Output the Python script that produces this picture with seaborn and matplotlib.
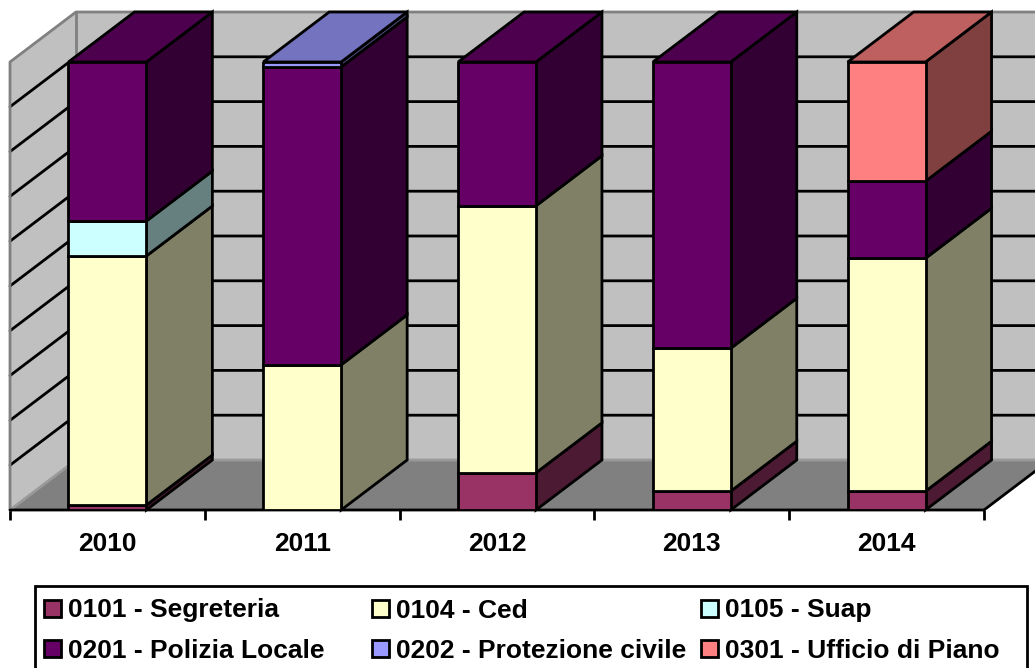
import matplotlib
matplotlib.use("Agg")
import matplotlib.pyplot as plt
from matplotlib.patches import Polygon, Rectangle
from matplotlib.colors import to_rgb
import numpy as np
import pandas as pd
import seaborn as sns

# Percent share of each office per year (each year sums to 100)
years = ["2010", "2011", "2012", "2013", "2014"]
segreteria = [1.1, 0.0, 8.3, 4.2, 4.2]
ced = [55.6, 32.4, 59.6, 31.9, 52.0]
suap = [7.8, 0.0, 0.0, 0.0, 0.0]
polizia = [35.5, 66.5, 32.1, 63.9, 17.2]
protezione = [0.0, 1.1, 0.0, 0.0, 0.0]
ufficio = [0.0, 0.0, 0.0, 0.0, 26.6]

series_names = ["0101 - Segreteria", "0104 - Ced", "0105 - Suap",
                "0201 - Polizia Locale", "0202 - Protezione civile",
                "0301 - Ufficio di Piano"]
series_values = [segreteria, ced, suap, polizia, protezione, ufficio]
series_colors = ["#993366", "#FFFFCC", "#CCFFFF", "#660066", "#9999FF", "#FF8080"]

W, H = 1035, 668
LW = 2.0
FONT = 19
sns.set_theme(style="white")
plt.rcParams["font.family"] = ["Liberation Sans", "DejaVu Sans"]

fig = plt.figure(figsize=(W / 100, H / 100), dpi=100, facecolor="white")
ax = fig.add_axes([10 / W, 1 - 510 / H, 974 / W, 448 / H])

# Depth of the oblique projection, in data units
DX = 66 / 194.8
DY = 50 / 4.48
XMIN, XMAX = -0.5, 4.5
ax.set_xlim(XMIN, XMAX)
ax.set_ylim(0, 100)
ax.patch.set_visible(False)
for spine in ax.spines.values():
    spine.set_visible(False)


def face(points, color, edge="none", z=1):
    ax.add_patch(Polygon(points, closed=True, facecolor=color, edgecolor=edge,
                         linewidth=LW, zorder=z, clip_on=False, joinstyle="miter"))


def shade(color, k):
    return tuple(c * k for c in to_rgb(color))


# Chart walls and floor
face([(XMIN + DX, DY), (XMAX + DX, DY), (XMAX + DX, 100 + DY), (XMIN + DX, 100 + DY)], "#C0C0C0")
face([(XMIN, 0), (XMIN + DX, DY), (XMIN + DX, 100 + DY), (XMIN, 100)], "#C0C0C0")
face([(XMIN, 0), (XMAX, 0), (XMAX + DX, DY), (XMIN + DX, DY)], "#808080")

# Gridlines on the back and side walls
for level in range(10, 100, 10):
    ax.plot([XMIN, XMIN + DX, XMAX + DX], [level, level + DY, level + DY],
            color="black", lw=LW, clip_on=False, zorder=2, solid_joinstyle="miter")

wall_edge = "#808080"
ax.plot([XMIN, XMIN, XMIN + DX, XMAX + DX], [0, 100, 100 + DY, 100 + DY],
        color=wall_edge, lw=LW, clip_on=False, zorder=2)
ax.plot([XMIN + DX, XMIN + DX], [DY, 100 + DY], color=wall_edge, lw=LW, clip_on=False, zorder=2)
ax.plot([XMIN, XMIN + DX, XMAX + DX], [0, DY, DY], color="#9A9A9A", lw=LW, clip_on=False, zorder=2)
ax.plot([XMIN, XMAX, XMAX + DX], [0, 0, DY], color="black", lw=LW, clip_on=False, zorder=2.5)

# Stacked front faces, with side and top faces extruded from each bar
table = pd.DataFrame(series_values, index=series_names, columns=years)
base = pd.Series(0.0, index=years)
tops = {}
for name, color in zip(series_names, series_colors):
    row = table.loc[name]
    used = row[row > 0]
    before = len(ax.patches)
    sns.barplot(x=used.index, y=used.values, order=years, color=color, saturation=1,
                width=0.4, bottom=base[used.index].values, edgecolor="black",
                linewidth=LW, errorbar=None, zorder=4, ax=ax)
    bars = [b for b in ax.patches[before:] if b.get_height() > 0]
    for bar in bars:
        x0, x1 = bar.get_x(), bar.get_x() + bar.get_width()
        y0, y1 = bar.get_y(), bar.get_y() + bar.get_height()
        face([(x1, y0), (x1 + DX, y0 + DY), (x1 + DX, y1 + DY), (x1, y1)],
             shade(color, 0.5), "black", 3.5)
        tops[round(x0, 3)] = (x0, x1, y1, color)
    base[used.index] += used.values

for x0, x1, y1, color in tops.values():
    face([(x0, y1), (x1, y1), (x1 + DX, y1 + DY), (x0 + DX, y1 + DY)],
         shade(color, 0.75), "black", 3.5)

# Category axis: ticks on the boundaries, labels centred under the bars
ax.set_xticks(np.arange(XMIN, XMAX + 0.5, 1.0))
ax.set_xticklabels([])
ax.set_xticks(range(len(years)), labels=years, minor=True)
ax.tick_params(axis="x", which="major", length=7.2, width=LW, color="black", bottom=True)
ax.tick_params(axis="x", which="minor", length=0, pad=15.5, labelsize=FONT, labelcolor="black")
for label in ax.get_xticklabels(minor=True):
    label.set_fontweight("bold")
ax.set_yticks([])
ax.set_xlabel("")
ax.set_ylabel("")


def fx(px):
    return px / W


def fy(py):
    return 1 - py / H


# Legend box on a fixed three-column grid; its lower edge falls at the figure's edge
fig.add_artist(Rectangle((fx(35), fy(672)), fx(992), 86 / H, transform=fig.transFigure,
                         facecolor="white", edgecolor="black", linewidth=LW))
col_x = [43.5, 372, 700.5]
row_y = [608, 648]
for i, (name, color) in enumerate(zip(series_names, series_colors)):
    cx = col_x[i % 3]
    cy = row_y[i // 3]
    fig.add_artist(Rectangle((fx(cx), fy(cy + 8.5)), 17 / W, 17 / H, transform=fig.transFigure,
                             facecolor=color, edgecolor="black", linewidth=LW))
    fig.text(fx(cx + 24.5), fy(cy), name, fontsize=FONT, fontweight="bold", color="black",
             ha="left", va="center_baseline")

fig.savefig("out.png", dpi=100)
